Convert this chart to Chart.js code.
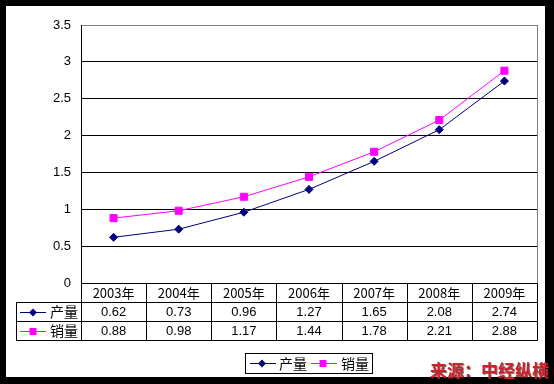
<!DOCTYPE html>
<html><head><meta charset="utf-8">
<script src="https://cdn.jsdelivr.net/npm/chart.js@4/dist/chart.umd.min.js"></script>
<style>html,body{margin:0;padding:0;background:#000;}canvas{display:block;}</style>
</head><body>
<canvas id="c" width="554" height="384"></canvas>
<script>
const categories = ['2003年','2004年','2005年','2006年','2007年','2008年','2009年'];
const production = [0.62,0.73,0.96,1.27,1.65,2.08,2.74];
const sales = [0.88,0.98,1.17,1.44,1.78,2.21,2.88];
const seriesNames = ['产量','销量'];
const yTicks = [0,0.5,1,1.5,2,2.5,3,3.5];
const sourceText = '来源：中经纵横';

const CJK = '"Noto Sans CJK SC", sans-serif';
const NUM = '"Liberation Sans", Arial, sans-serif';

function fmt(v){ return v.toFixed(2); }

function marker(ctx, style, x, y, color){
  ctx.fillStyle = color;
  ctx.beginPath();
  if (style === 'diamond'){
    ctx.moveTo(x, y-4); ctx.lineTo(x+4, y); ctx.lineTo(x, y+4); ctx.lineTo(x-4, y); ctx.closePath();
  } else {
    ctx.rect(x-3.5, y-3.5, 7, 7);
  }
  ctx.fill();
}

const framePlugin = {
  id: 'frame',
  beforeDraw(chart){
    const ctx = chart.ctx;
    ctx.save();
    ctx.fillStyle = '#000';
    ctx.fillRect(0,0,554,384);
    ctx.fillStyle = '#fff';
    ctx.fillRect(6,6,539,371);
    ctx.restore();
  },
  afterDraw(chart){
    const ctx = chart.ctx;
    const x = chart.scales.x, a = chart.chartArea;
    const n = categories.length;
    const cw = (a.right - a.left) / n;
    const top = a.bottom, r1 = top + 19, r2 = r1 + 19, r3 = r2 + 19;
    const labelLeft = 16.5;
    ctx.save();
    // right plot border
    ctx.strokeStyle = '#808080'; ctx.lineWidth = 1;
    ctx.beginPath(); ctx.moveTo(Math.round(a.right)+0.5, a.top); ctx.lineTo(Math.round(a.right)+0.5, a.bottom); ctx.stroke();
    // table lines
    ctx.strokeStyle = '#000';
    ctx.beginPath();
    ctx.moveTo(a.left, top+0.5); ctx.lineTo(a.right+1, top+0.5);
    ctx.moveTo(labelLeft, r1+0.5); ctx.lineTo(a.right+1, r1+0.5);
    ctx.moveTo(labelLeft, r2+0.5); ctx.lineTo(a.right+1, r2+0.5);
    ctx.moveTo(labelLeft, r3+0.5); ctx.lineTo(a.right+1, r3+0.5);
    ctx.moveTo(labelLeft, r1); ctx.lineTo(labelLeft, r3+1);
    for (let i = 0; i <= n; i++){
      const bx = Math.round(a.left + i*cw) + 0.5;
      ctx.moveTo(bx, top); ctx.lineTo(bx, r3+1);
    }
    ctx.stroke();
    // texts
    ctx.fillStyle = '#000';
    ctx.textAlign = 'center'; ctx.textBaseline = 'middle';
    const rows = [production, sales];
    for (let i = 0; i < n; i++){
      const cx = x.getPixelForValue(i);
      ctx.font = '13px ' + CJK;
      ctx.fillText(categories[i], cx, top + 10);
      ctx.font = '13px ' + NUM;
      ctx.fillText(fmt(rows[0][i]), cx, r1 + 10);
      ctx.fillText(fmt(rows[1][i]), cx, r2 + 10);
    }
    // row labels with legend keys
    const ds = chart.data.datasets;
    const styles = ['diamond','square'];
    [r1, r2].forEach((ry, k) => {
      const cy = ry + 10;
      ctx.strokeStyle = ds[k].borderColor; ctx.lineWidth = 1;
      ctx.beginPath(); ctx.moveTo(20, cy+0.5); ctx.lineTo(46, cy+0.5); ctx.stroke();
      marker(ctx, styles[k], 33, cy+0.5, ds[k].borderColor);
      ctx.fillStyle = '#000'; ctx.textAlign = 'left';
      ctx.font = '14px ' + CJK;
      ctx.fillText(ds[k].label, 50, cy);
    });
    // legend box
    const lx = 245.5, ly = 353.5, lw = 127, lh = 20;
    ctx.strokeStyle = '#000'; ctx.lineWidth = 1;
    ctx.strokeRect(lx, ly, lw, lh);
    const keys = [[250, 262, 279], [311, 323, 341]];
    keys.forEach((k, i) => {
      const cy = ly + lh/2;
      ctx.strokeStyle = ds[i].borderColor;
      ctx.beginPath(); ctx.moveTo(k[0], cy); ctx.lineTo(k[0]+26, cy); ctx.stroke();
      marker(ctx, styles[i], k[1], cy, ds[i].borderColor);
      ctx.fillStyle = '#000'; ctx.textAlign = 'left';
      ctx.font = '14px ' + CJK;
      ctx.fillText(ds[i].label, k[2], cy);
    });
    // source
    ctx.font = 'bold 17px ' + CJK;
    ctx.textAlign = 'left'; ctx.textBaseline = 'middle';
    ctx.fillStyle = 'rgba(60,20,20,0.6)';
    ctx.fillText(sourceText, 431, 372);
    ctx.fillStyle = '#c8232b';
    ctx.fillText(sourceText, 430, 371);
    ctx.restore();
  }
};

new Chart(document.getElementById('c'), {
  type: 'line',
  data: {
    labels: categories,
    datasets: [
      { label: seriesNames[0], data: production, borderColor: '#000080', backgroundColor: '#000080',
        borderWidth: 1, pointStyle: 'rectRot', pointRadius: 4, pointHoverRadius: 4, tension: 0 },
      { label: seriesNames[1], data: sales, borderColor: '#ff00ff', backgroundColor: '#ff00ff',
        borderWidth: 1, pointStyle: 'rect', pointRadius: 5, pointHoverRadius: 5, tension: 0 }
    ]
  },
  options: {
    responsive: false,
    animation: false,
    devicePixelRatio: 1,
    layout: { padding: { left: 0, top: 25, right: 17, bottom: 0 } },
    plugins: { legend: { display: false }, tooltip: { enabled: false } },
    scales: {
      x: {
        offset: true,
        grid: { display: false },
        border: { display: false },
        ticks: { display: false },
        afterFit(s){ s.height = 101; }
      },
      y: {
        min: 0, max: 3.5,
        afterBuildTicks(s){ s.ticks = yTicks.map(v => ({ value: v })); },
        ticks: { color: '#000', padding: 10, font: { family: NUM, size: 13 },
          callback: v => String(v) },
        grid: { drawTicks: false, color: ctx => ctx.tick && ctx.tick.value === 3.5 ? '#808080' : '#000', lineWidth: 1 },
        border: { color: '#000', width: 1 },
        afterFit(s){ s.width = 81; }
      }
    }
  },
  plugins: [framePlugin]
});
</script>
</body></html>
